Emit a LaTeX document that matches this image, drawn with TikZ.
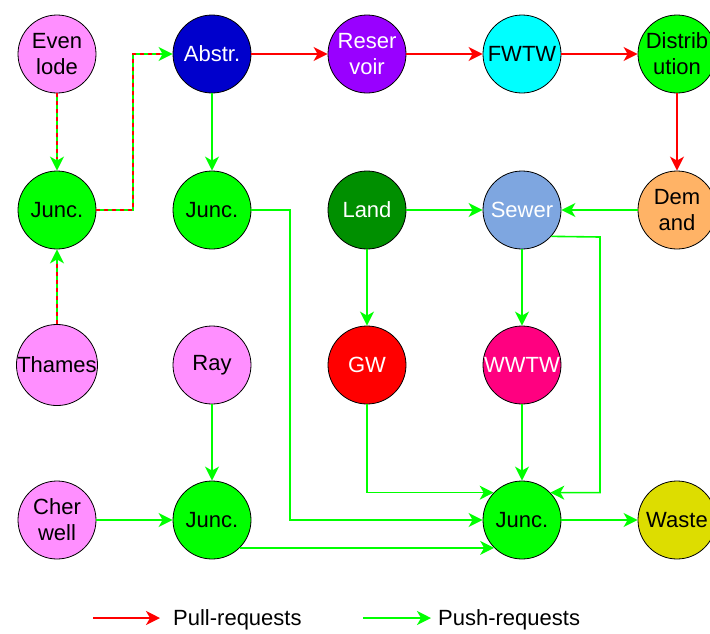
\documentclass[tikz,border=0pt]{standalone}
\usepackage{fontspec}
\setmainfont{Liberation Sans}
\usetikzlibrary{arrows.meta,positioning,calc}
\definecolor{pull}{HTML}{FF0000}
\definecolor{push}{HTML}{00FF00}
\definecolor{river}{HTML}{FF8FFF}
\definecolor{abst}{HTML}{0000CC}
\definecolor{resv}{HTML}{9900FF}
\definecolor{trt}{HTML}{00FFFF}
\definecolor{lnd}{HTML}{008F00}
\definecolor{swr}{HTML}{7EA6E0}
\definecolor{dmd}{HTML}{FFB366}
\definecolor{gwc}{HTML}{FF0000}
\definecolor{wwt}{HTML}{FF0080}
\definecolor{wst}{HTML}{DDDD00}
\newcommand{\lbl}{\fontsize{22}{26}\selectfont}
\tikzset{
  stn/.style={circle,draw=black,line width=0.8pt,minimum size=78pt,inner sep=0pt,align=center,font=\lbl},
  riv/.style={stn,fill=river},
  jnc/.style={stn,fill=push},
  wht/.style={stn,text=white},
  tip/.style={-{Stealth[length=14pt,width=14pt,inset=4pt]}},
  pullar/.style={tip,line width=1.6pt,draw=pull},
  pushar/.style={tip,line width=1.6pt,draw=push},
  mixar/.style={pushar,postaction={draw=pull,-,line width=1.2pt,dash pattern=on 4pt off 4pt,shorten >=12pt}},
}
\begin{document}
\begin{tikzpicture}[x=1pt,y=-1pt]
\useasboundingbox (0,0) rectangle (710,633);
% sources and works
\node[riv] (evenlode) at (57,54) {Even\\lode};
\node[wht,fill=abst] (abstr) at (212,54) {Abstr.};
\node[wht,fill=resv] (reservoir) at (367,54) {Reser\\voir};
\node[stn,fill=trt] (fwtw) at (522,54) {FWTW};
\node[stn,fill=push] (distrib) at (677,54) {Distrib\\ution};
\node[jnc] (juncA) at (57,210) {Junc.};
\node[jnc] (juncB) at (212,210) {Junc.};
\node[wht,fill=lnd] (land) at (367,210) {Land};
\node[wht,fill=swr] (sewer) at (522,210) {Sewer};
\node[stn,fill=dmd] (demand) at (677,210) {Dem\\and};
\node[riv] (thames) at (57,365) {Thames};
\node[riv] (ray) at (212,365) {Ray};
\node[wht,fill=gwc] (gw) at (367,365) {GW};
\node[wht,fill=wwt] (wwtw) at (522,365) {WWTW};
\node[riv] (cherwell) at (57,520) {Cher\\well};
\node[jnc] (juncC) at (212,520) {Junc.};
\node[jnc] (juncD) at (522,520) {Junc.};
\node[stn,fill=wst] (waste) at (677,520) {Waste};

% pull and push mixed
\draw[mixar] (evenlode) -- (juncA);
\draw[mixar] (thames) -- (juncA);
\draw[mixar] (juncA.east) -- (133,210) |- (abstr.west);

% pull only
\draw[pullar] (abstr) -- (reservoir);
\draw[pullar] (reservoir) -- (fwtw);
\draw[pullar] (fwtw) -- (distrib);
\draw[pullar] (distrib) -- (demand);

% push only
\draw[pushar] (abstr) -- (juncB);
\draw[pushar] (juncB.east) -- (290,210) |- (juncD.west);
\draw[pushar] (land) -- (sewer);
\draw[pushar] (land) -- (gw);
\draw[pushar] (demand) -- (sewer);
\draw[pushar] (sewer) -- (wwtw);
\draw[pushar] (sewer.-42) -- (600,237) |- (juncD.44);
\draw[pushar] (gw.south) |- (juncD.136);
\draw[pushar] (wwtw) -- (juncD);
\draw[pushar] (ray) -- (juncC);
\draw[pushar] (cherwell) -- (juncC);
\draw[pushar] (juncC.-45) -- (juncD.-135);
\draw[pushar] (juncD) -- (waste);

% legend
\coordinate (pullS) at (93,618);
\coordinate (pullE) at (160,618);
\coordinate (pushS) at (363,618);
\coordinate (pushE) at (431,618);
\draw[pullar] (pullS) -- (pullE);
\draw[pushar] (pushS) -- (pushE);
\node[font=\lbl,anchor=west,inner sep=0pt] (pulltxt) at (173,620) {Pull-requests};
\node[font=\lbl,anchor=west,inner sep=0pt] (pushtxt) at (438,620) {Push-requests};
\end{tikzpicture}
\end{document}
